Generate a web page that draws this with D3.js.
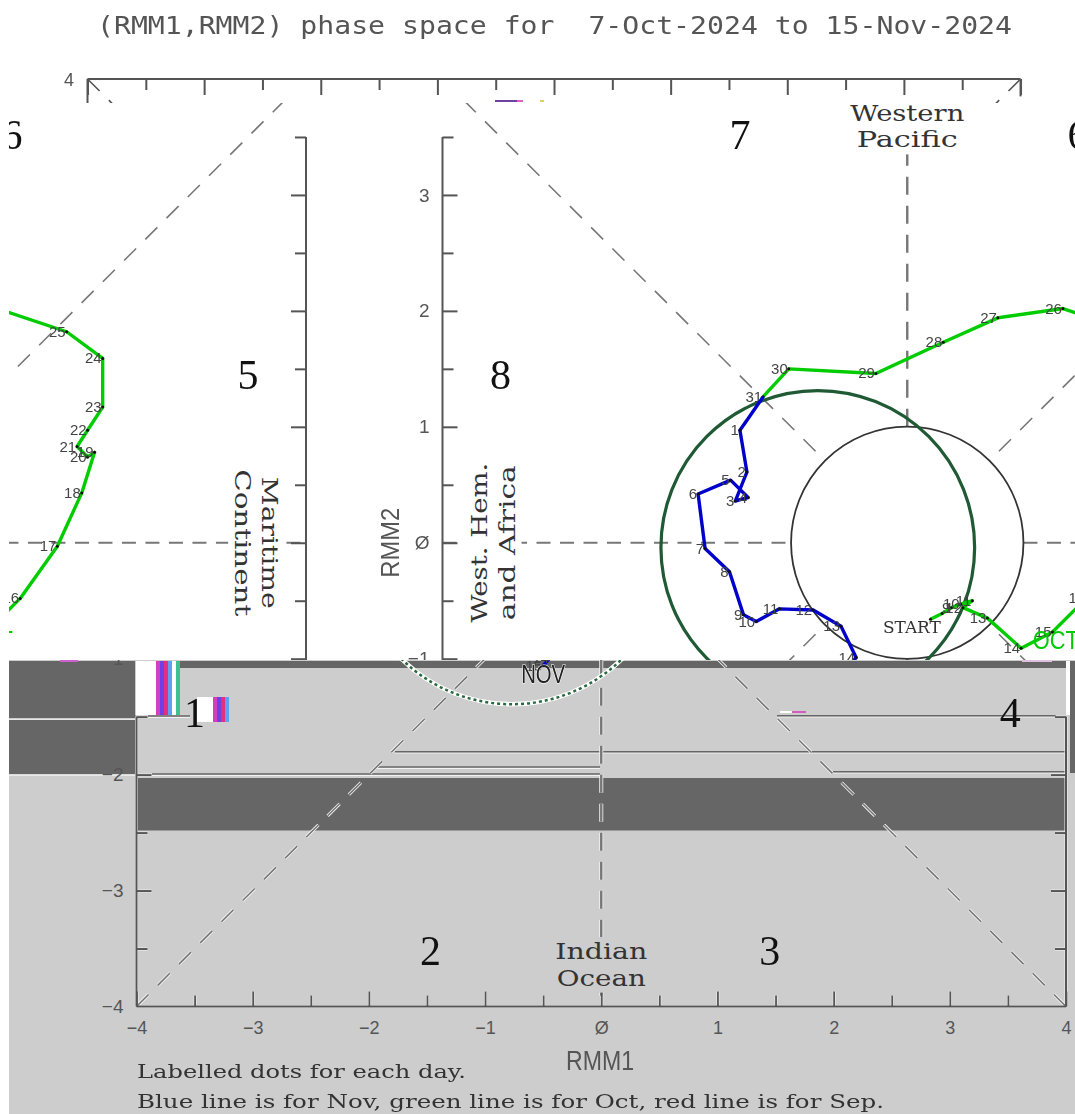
<!DOCTYPE html>
<html><head><meta charset="utf-8">
<script src="https://cdn.jsdelivr.net/npm/d3@7"></script>
<style>html,body{margin:0;padding:0;background:#fff}svg{display:block;filter:blur(0.55px)}</style>
</head><body><svg id="c" width="1075" height="1114"></svg>
<script>
// ---- data (RMM units) ----
const octDays  = [7,8,9,10,11,12,13,14,15,16,17,18,19,20,21,22,23,24,25,26,27,28,29,30,31];
const octRmm1  = [0.20,0.30,0.38,0.46,0.56,0.48,0.69,0.98,1.25,1.54,1.86,2.07,2.18,2.12,2.03,2.12,2.25,2.25,1.94,1.34,0.78,0.31,-0.27,-1.02,-1.24];
const octRmm2  = [-0.66,-0.61,-0.56,-0.53,-0.50,-0.56,-0.65,-0.91,-0.77,-0.48,-0.03,0.43,0.78,0.74,0.83,0.97,1.17,1.59,1.82,2.02,1.94,1.73,1.46,1.50,1.26];
const novDays  = [1,2,3,4,5,6,7,8,9,10,11,12,13,14,15];
const novRmm1  = [-1.44,-1.38,-1.48,-1.37,-1.52,-1.80,-1.74,-1.53,-1.41,-1.30,-1.10,-0.81,-0.57,-0.44,-0.50];
const novRmm2  = [0.97,0.61,0.36,0.39,0.54,0.42,-0.05,-0.25,-0.62,-0.68,-0.57,-0.58,-0.72,-0.99,-1.06];
const hiddenOctLabels = [7,8];
const forecastCircle = [-0.77,-0.04,1.35];   // centre rmm1, centre rmm2, radius
const unitRadius = 1;
const majorTicks = [-4,-3,-2,-1,0,1,2,3,4];
const minorTicks = [-3.5,-2.5,-1.5,-0.5,0.5,1.5,2.5,3.5];
const phaseNames = ["1","2","3","4","5","6","7","8"];
const phaseRmm1  = [-3.5,-1.47,1.45,3.52,3.5,1.47,-1.44,-3.5];
const phaseRmm2  = [-1.47,-3.52,-3.52,-1.47,1.45,3.52,3.52,1.45];
const titleText = "(RMM1,RMM2) phase space for  7-Oct-2024 to 15-Nov-2024";
const noteLines = ["Labelled dots for each day.","Blue line is for Nov, green line is for Oct, red line is for Sep."];

// ---- layout ----
const W=1075, H=1114, bandTop=103, bandMid=660, wrapW=1066, shiftA=306, shiftB=shiftA-wrapW;
const x=d3.scaleLinear().domain([-4,4]).range([136.5,1066]);
const y=d3.scaleLinear().domain([-4,4]).range([1006.5,79]);
const GREY="#cdcdcd", DARK="#666", LINE="#555";
const SANS="'Liberation Sans',Arial,sans-serif", SERIF="'DejaVu Serif',serif", MONO="'DejaVu Sans Mono',monospace";
const svg=d3.select("#c");
const oct=octDays.map((d,i)=>({d,a:octRmm1[i],b:octRmm2[i]}));
const nov=novDays.map((d,i)=>({d,a:novRmm1[i],b:novRmm2[i]}));
const path=d3.line().x(p=>x(p.a)).y(p=>y(p.b));
const defs=svg.append("defs");
function clip(id,a,b,c,d){defs.append("clipPath").attr("id",id).append("rect").attr("x",a).attr("y",b).attr("width",c).attr("height",d);}
clip("cTop",0,60,W,bandTop-60);
clip("cUp",9,bandTop,W-9,bandMid-bandTop);
clip("cLow",9,bandMid,W-9,H-bandMid);

// ---- structure: axes and dashed sector lines ----
function styleAxis(g,color,w){g.select(".domain").remove();g.selectAll("line").attr("stroke",color).attr("stroke-width",w);}
function structure(g,color,extra){
  const w=extra||0;
  const dash=(a1,b1,a2,b2,sw,da,col)=>g.append("line").attr("x1",x(a1)).attr("y1",y(b1)).attr("x2",x(a2)).attr("y2",y(b2))
    .attr("stroke",col).attr("stroke-width",sw+w).attr("stroke-dasharray",da).attr("fill","none");
  const c=color, r=0.707, e=4;
  [[-e,e,-r,r],[e,e,r,r],[-e,-e,-r,-r],[e,-e,r,-r]].forEach(q=>dash(q[0],q[1],q[2],q[3],1.6,"17 13",c));
  dash(-e,0,-1,0,2.2,"14 9.5",c); dash(1,0,e,0,2.2,"14 9.5",c);
  dash(0,1,0,e,2.4,"18 11",c); dash(0,-1,0,-e,2.4,"18 11",c);
}
function frame(g,color,extra,opts){
  const w=extra||0;
  const top=opts.top;
  const vals=(t)=>t.filter(v=>v<=(top===undefined?4:top));
  const lineSeg=(x1,y1,x2,y2)=>g.append("line").attr("x1",x1).attr("y1",y1).attr("x2",x2).attr("y2",y2).attr("stroke",color).attr("stroke-width",2+w);
  const yTop=y(top===undefined?4:top);
  lineSeg(x(-4),yTop,x(-4),y(-4)); lineSeg(x(4),yTop,x(4),y(-4)); lineSeg(x(-4),y(-4),x(4),y(-4));
  const noText=()=>"";
  [[majorTicks,15],[minorTicks,11]].forEach(([t,len])=>{
    styleAxis(g.append("g").attr("transform",`translate(${x(-4)},0)`).call(d3.axisRight(y).tickValues(vals(t).filter(v=>v>-4)).tickSize(len).tickFormat(noText)),color,2+w);
    styleAxis(g.append("g").attr("transform",`translate(${x(4)},0)`).call(d3.axisLeft(y).tickValues(vals(t).filter(v=>v>-4)).tickSize(len).tickFormat(noText)),color,2+w);
    styleAxis(g.append("g").attr("transform",`translate(0,${y(-4)})`).call(d3.axisTop(x).tickValues(t).tickSize(len).tickFormat(noText)),color,1.8+w);
  });
}
function axisLabels(g){
  const yAx=g.append("g").attr("transform",`translate(${x(-4)},0)`).call(d3.axisLeft(y).tickValues(majorTicks.filter(v=>v<4)).tickSize(0).tickPadding(13).tickFormat(d=>d<0?"\u2212"+(-d):(d===0?"\u00d8":d)));
  yAx.select(".domain").remove();
  yAx.selectAll("text").attr("fill",LINE).attr("font-family",SANS).attr("font-size",19);
  const xAx=g.append("g").attr("transform",`translate(0,${y(-4)})`).call(d3.axisBottom(x).tickValues(majorTicks).tickSize(0).tickPadding(15).tickFormat(d=>d<0?"\u2212"+(-d):(d===0?"\u00d8":d)));
  xAx.select(".domain").remove();
  xAx.selectAll("text").attr("fill",LINE).attr("font-family",SANS).attr("font-size",18);
}
function boxed(g,lab,a,b,rot,len,fill,size){
  const t=g.append("g").attr("transform",`translate(${x(a)},${y(b)}) rotate(${rot})`);
  const rect=t.append("rect").attr("fill",fill);
  const tx=t.append("text").text(lab).attr("text-anchor","middle").attr("font-family",SERIF).attr("font-size",size||23)
    .attr("fill","#333").attr("textLength",len).attr("lengthAdjust","spacingAndGlyphs");
  const bb=tx.node().getBBox();
  rect.attr("x",bb.x-2).attr("y",bb.y-1).attr("width",bb.width+4).attr("height",bb.height+3);
}
function phases(g){
  phaseNames.forEach((n,i)=>g.append("text").text(n).attr("x",x(phaseRmm1[i])).attr("y",y(phaseRmm2[i])+14)
    .attr("text-anchor","middle").attr("font-family","'Liberation Serif',serif").attr("font-size",42).attr("fill","#111"));
}
function sectorNames(g,fill){
  boxed(g,"Western",0,3.64,0,114,fill);
  boxed(g,"Pacific",0,3.41,0,101,fill);
  boxed(g,"Maritime",3.62,0,90,132,fill);
  boxed(g,"Continent",3.39,0,90,147,fill);
  boxed(g,"West. Hem.",-3.62,0,-90,160,fill);
  boxed(g,"and Africa",-3.38,0,-90,155,fill);
  boxed(g,"Indian",0,-3.59,0,92,fill);
  boxed(g,"Ocean",0,-3.82,0,89,fill);
}
function rmmLabels(g){
  g.append("text").text("RMM2").attr("transform",`translate(${x(-4)-53},${y(0)}) rotate(-90)`)
   .attr("dy",9).attr("text-anchor","middle").attr("font-family",SANS).attr("font-size",26).attr("fill",LINE)
   .attr("textLength",70).attr("lengthAdjust","spacingAndGlyphs");
}
function circles(g){
  g.append("circle").attr("cx",x(0)).attr("cy",y(0)).attr("r",x(unitRadius)-x(0)).attr("fill","none").attr("stroke","#333").attr("stroke-width",1.8);
  g.append("circle").attr("cx",x(forecastCircle[0])).attr("cy",y(forecastCircle[1])).attr("r",x(forecastCircle[2])-x(0))
    .attr("fill","none").attr("stroke","#1f5a35").attr("stroke-width",3.2);
}
function series(g,data,color,hidden,lead){
  const pts=lead?[lead].concat(data):data;
  g.append("path").attr("d",path(pts)).attr("fill","none").attr("stroke",color).attr("stroke-width",3.4).attr("stroke-linejoin","round");
  g.selectAll(null).data(data).join("circle").attr("cx",p=>x(p.a)).attr("cy",p=>y(p.b)).attr("r",1.5).attr("fill","#111");
  g.selectAll(null).data(data.filter(p=>!(hidden||[]).includes(p.d))).join("text").text(p=>p.d)
    .attr("x",p=>x(p.a)-1).attr("y",p=>y(p.b)+5).attr("text-anchor","end")
    .attr("font-family",SANS).attr("font-size",15).attr("fill","#444");
}
const lastOct=oct[oct.length-1];

// ---- title ----
svg.append("text").text(titleText).attr("x",97).attr("y",34).attr("font-family",MONO).attr("font-size",25).attr("fill","#555")
  .attr("textLength",915).attr("lengthAdjust","spacingAndGlyphs").style("white-space","pre");

// ---- top strip (shifted slice with the top axis) ----
const topClip=svg.append("g").attr("clip-path","url(#cTop)");
const topG=topClip.append("g").attr("transform",`translate(87.5,0) scale(1.0038,1) translate(${-x(-4)},0)`);
[[-4,4,-0.707,0.707],[4,4,0.707,0.707]].forEach(q=>topG.append("line").attr("x1",x(q[0])).attr("y1",y(q[1])).attr("x2",x(q[2])).attr("y2",y(q[3]))
  .attr("stroke",LINE).attr("stroke-width",1.6).attr("stroke-dasharray","17 13"));
topG.append("line").attr("x1",x(-4)).attr("x2",x(-4)).attr("y1",y(4)).attr("y2",bandTop).attr("stroke",LINE).attr("stroke-width",2);
topG.append("line").attr("x1",x(4)).attr("x2",x(4)).attr("y1",y(4)).attr("y2",y(3.85)).attr("stroke",LINE).attr("stroke-width",2);
[[majorTicks,16],[minorTicks,11]].forEach(([t,len])=>{
  const a=topG.append("g").attr("transform",`translate(0,${y(4)})`).call(d3.axisBottom(x).tickValues(t).tickSize(len).tickFormat(()=>""));
  a.select(".domain").remove(); a.selectAll("line").attr("stroke",LINE).attr("stroke-width",2);
});
topG.append("line").attr("x1",x(-4)).attr("x2",x(4)).attr("y1",y(4)).attr("y2",y(4)).attr("stroke",LINE).attr("stroke-width",2);
svg.append("text").text("4").attr("x",74).attr("y",86).attr("text-anchor","end").attr("font-family",SANS).attr("font-size",18).attr("fill",LINE);

// ---- upper band: whole scene displaced and wrapped round ----
const up=svg.append("g").attr("clip-path","url(#cUp)");
[shiftA,shiftB].forEach(off=>{
  const g=up.append("g").attr("transform",`translate(${off},0)`);
  structure(g,"#777");
  sectorNames(g,"#fff");
  frame(g,LINE,0,{top:3.5});
  axisLabels(g); rmmLabels(g);
  circles(g);
  phases(g);
  g.append("text").text("START").attr("x",x(0.04)).attr("y",y(-0.72)+7).attr("text-anchor","middle").attr("font-family",SERIF).attr("font-size",17).attr("fill","#333").attr("textLength",58).attr("lengthAdjust","spacingAndGlyphs");
  series(g,oct,"#00cc00",hiddenOctLabels);
  series(g,nov,"#0000cc",null,lastOct);
  g.append("text").text("OCT").attr("x",x(1.08)).attr("y",y(-0.83)+10).attr("font-family",SANS).attr("font-size",25).attr("fill","#00cc00").attr("textLength",46).attr("lengthAdjust","spacingAndGlyphs");
});

// ---- lower band: grey, unshifted, with smeared dark blocks ----
const low=svg.append("g").attr("clip-path","url(#cLow)");
low.append("rect").attr("x",9).attr("y",bandMid).attr("width",W-9).attr("height",H-bandMid).attr("fill",GREY);
const artifactRects=[[9,661,135.5,718,DARK],[9,720,135.5,774,DARK],[135.5,661,156,715,"#fff"],[180,661,1066,668,DARK],[137,778,1066,830.5,DARK],
 [1066,661,1070,715,"#fff"],[1070,661,1075,773,DARK],[197,697,213,722,"#fff"],[9,719,135.5,720,"#e8e8e8"],[9,774.5,135,776,"#e8e8e8"]];
low.selectAll(null).data(artifactRects).join("rect").attr("x",d=>d[0]).attr("y",d=>d[1]).attr("width",d=>d[2]-d[0]).attr("height",d=>d[3]-d[1]).attr("fill",d=>d[4]);
const stripeCols=["#d040c0","#7040e0","#e03080","#60a0f0","#fff","#40c090"];
[[156,661,54],[213,697,25]].forEach(s=>{
  d3.range(0,s[0]===156?6:4).forEach(i=>low.append("rect").attr("x",s[0]+i*4).attr("y",s[1]).attr("width",4).attr("height",s[2]).attr("fill",stripeCols[i]));
});
const smearLines=[[395,751.7,1066],[375,767,600],[152,774,600],[833,771.7,1066],[777,715.7,1056],[148,716,190]];
smearLines.forEach(l=>{
  low.append("line").attr("x1",l[0]).attr("x2",l[2]).attr("y1",l[1]+1.2).attr("y2",l[1]+1.2).attr("stroke","#f2f2f2").attr("stroke-width",1.4);
  low.append("line").attr("x1",l[0]).attr("x2",l[2]).attr("y1",l[1]).attr("y2",l[1]).attr("stroke",DARK).attr("stroke-width",1.6);
});
const lowWhite=low.append("g"); structure(lowWhite,"#f4f4f4",1.6); frame(lowWhite,"#f4f4f4",1,{top:-1.5});
const lowDark=low.append("g"); structure(lowDark,"#777"); frame(lowDark,"#555",0,{top:-1.5});
sectorNames(low,GREY);
low.append("g").call(axisLabels);
phases(low);
const bigC=low.append("g");
const circ=(col,sw,da)=>bigC.append("circle").attr("cx",x(forecastCircle[0])).attr("cy",y(forecastCircle[1])).attr("r",x(forecastCircle[2])-x(0)).attr("fill","none").attr("stroke",col).attr("stroke-width",sw).attr("stroke-dasharray",da);
circ("#fff",4.5,null); circ("#2a6a40",2.5,"3 3");
series(low,nov,"#0000cc");
low.append("text").text("NOV").attr("x",x(-0.5)).attr("y",y(-1.12)+10).attr("text-anchor","middle").attr("font-family",SANS).attr("font-size",26).attr("fill","#222")
  .attr("stroke","#fff").attr("stroke-width",1.2).attr("paint-order","stroke").attr("textLength",44).attr("lengthAdjust","spacingAndGlyphs");
low.append("text").text("RMM1").attr("x",600).attr("y",1070).attr("text-anchor","middle").attr("font-family",SANS).attr("font-size",27).attr("fill",LINE).attr("textLength",68).attr("lengthAdjust","spacingAndGlyphs");
const noteLen=[329,747], noteY=[1078,1108];
noteLines.forEach((t,i)=>low.append("text").text(t).attr("x",137).attr("y",noteY[i]).attr("font-family",SERIF).attr("font-size",18).attr("fill","#333").attr("textLength",noteLen[i]).attr("lengthAdjust","spacingAndGlyphs"));

// ---- tiny coloured glitch specks along band seams ----
const specks=[[495,100,22,"#7040a0"],[517,100,6,"#e060c0"],[540,100,4,"#e0d060"],[60,660,18,"#d060d0"],[1022,660,30,"#e0c0e0"],[780,711,12,"#fff"],[792,711,14,"#d060c0"]];
svg.selectAll(null).data(specks).join("rect").attr("x",d=>d[0]).attr("y",d=>d[1]).attr("width",d=>d[2]).attr("height",2).attr("fill",d=>d[3]);
</script></body></html>
